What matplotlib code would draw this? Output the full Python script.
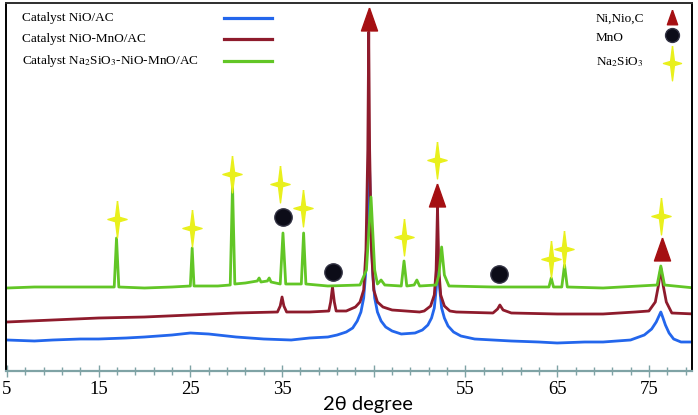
import matplotlib.pyplot as plt

plt.rcParams['mathtext.fontset'] = 'stix'

# 2theta (deg) / intensity (a.u.)
x_nio = [5, 8, 10, 13, 15, 18, 20, 23, 25, 27, 30, 33, 36, 38, 40, 41, 42, 42.7, 43.2, 43.6, 43.9, 44.1, 44.3,
         44.5, 44.7, 44.9, 45.1, 45.4, 45.8, 46.3, 47, 48, 49.5, 50.3, 50.9, 51.3, 51.6, 51.8, 52.0, 52.2,
         52.4, 52.7, 53.1, 53.7, 54.5, 56, 58, 60, 63, 65, 68, 70, 73, 74.5, 75.3, 75.8, 76.1, 76.3, 76.5,
         76.8, 77.2, 77.7, 78.5, 80]
y_nio = [30, 29, 30, 31, 31, 32, 33, 35, 37, 36, 33, 31, 30, 32, 33, 35, 38, 42, 49, 58, 72, 95, 140,
         218, 140, 95, 72, 58, 49, 43, 39, 36, 37, 40, 45, 52, 62, 80, 105, 80,
         62, 52, 44, 38, 34, 31, 30, 29, 28, 27, 28, 28, 30, 35, 41, 48, 54, 58, 53,
         45, 37, 31, 28, 28]

x_mno = [5, 10, 15, 20, 25, 30, 34.5, 34.8, 35.0, 35.2, 35.5, 38, 40.1, 40.3, 40.5, 40.7, 40.9, 42, 43, 43.5,
         43.9, 44.15, 44.35, 44.45, 44.55, 44.75, 45.0, 45.4, 46, 47, 50, 50.5, 51.2, 51.6, 51.8, 51.95, 52.1,
         52.3, 52.7, 53.3, 54, 58, 58.5, 58.75, 59.1, 60, 65, 70, 73.5, 75, 75.7, 76.05, 76.3, 76.55, 76.9,
         77.5, 80]
y_mno = [48, 50, 52, 53, 55, 57, 58, 64, 73, 64, 58, 58, 59, 68, 83, 68, 59, 59, 63, 68,
         80, 120, 220, 338, 220, 120, 80, 68, 63, 60, 58, 59, 64, 75, 100, 163, 100,
         75, 64, 59, 58, 57, 61, 65, 60, 57, 56, 56, 58, 59, 68, 85, 102, 85, 68,
         57, 56]

x_na = [5, 8, 12, 16.7, 16.95, 17.2, 20, 23, 25.0, 25.2, 25.4, 28, 29.35, 29.6, 29.85, 31, 32.3, 32.5, 32.7,
        33.4, 33.6, 33.8, 34.8, 35.1, 35.4, 37.1, 37.35, 37.6, 40, 43.5, 44.2, 44.7, 45.1, 45.4, 45.8, 46.2,
        48.0, 48.3, 48.6, 49.4, 49.7, 50.0, 51.8, 52.1, 52.4, 52.7, 53.2, 58, 62, 64.1, 64.35, 64.6, 65.5,
        65.8, 66.1, 70, 75.9, 76.3, 76.7, 80]
y_na = [82, 83, 83, 83, 132, 83, 82, 83, 84, 122, 84, 84, 85, 185, 86, 87, 89, 92, 88,
        89, 92, 88, 86, 137, 86, 86, 137, 86, 84, 85, 100, 173, 100, 86, 90, 85,
        84, 109, 84, 85, 90, 84, 85, 95, 123, 95, 84, 83, 83, 83, 92, 83, 83,
        105, 83, 82, 85, 104, 85, 82]

star_x = [16.96, 25.2, 29.57, 34.78, 37.28, 48.26, 51.9, 64.35, 65.76, 76.3]
star_y = [151, 142, 196, 186, 162, 133, 210, 111, 121, 154]
circle_x = [35.1, 40.54, 58.7]
circle_y = [153, 98, 96]
tri_x = [44.46, 51.9, 76.4]
tri_y = [351, 175, 121]

names = ['Catalyst NiO/AC', 'Catalyst NiO-MnO/AC', 'Catalyst Na$_2$SiO$_3$-NiO-MnO/AC']
colors = ['#2366ec', '#8e1b2c', '#62c626']
phases = ['Ni,Nio,C', 'MnO', 'Na$_2$SiO$_3$']

ticks = [5, 15, 25, 35, 45, 55, 65, 75]
tick_labels = ['5', '15', '25', '35', '', '55', '65', '75']

W, H = 698, 415
star = [(0, 0.5), (0.055, 0.06), (0.26, 0), (0.055, -0.06), (0, -0.5), (-0.055, -0.06), (-0.26, 0),
        (-0.055, 0.06), (0, 0.5)]
tri = [(0, 0.5), (0.35, -0.5), (-0.35, -0.5), (0, 0.5)]
star_c = '#e9f01c'
tri_c = '#a50f12'
dot_c = '#0c0c18'

fig = plt.figure(figsize=(6.98, 4.15), dpi=100)
ax = fig.add_axes([6 / W, 1 - 371 / H, (692 - 6) / W, 368 / H])

ax.plot(x_nio, y_nio, color=colors[0], lw=2.0)
ax.plot(x_mno, y_mno, color=colors[1], lw=2.0)
ax.plot(x_na, y_na, color=colors[2], lw=2.0)

ax.plot(star_x, star_y, ls='none', marker=star, ms=26.5, color=star_c, mec=star_c)
ax.plot(circle_x, circle_y, ls='none', marker='o', ms=12.5, color=dot_c, mec='#334')
ax.plot(tri_x, tri_y, ls='none', marker=tri, ms=16.5, color=tri_c, mec=tri_c)

ax.set_xlim(4.9, 79.7)
ax.set_ylim(-1, 367)
ax.set_yticks([])
ax.set_xticks(ticks)
ax.set_xticklabels(tick_labels, family='Liberation Serif', fontsize=13.5)
ax.set_xticks(range(5, 80, 2), minor=True)
ax.tick_params(axis='x', which='major', direction='inout', length=9, width=1, color='#7fa3a5', pad=3)
ax.tick_params(axis='x', which='minor', direction='inout', length=6, width=1, color='#7fa3a5')
ax.spines['bottom'].set_color('#7fa3a5')
ax.spines['bottom'].set_linewidth(1.6)
ax.spines['top'].set_color('#2e2e2e')
for s in ['left', 'right', 'top']:
    ax.spines[s].set_linewidth(1.4)

fig.text(368 / W, 1 - 404 / H, '2θ degree', ha='center', va='center', fontsize=14.5, family='Lato')

# legend on the left
for i, name in enumerate(names):
    yy = 1 - [18, 39, 61][i] / H
    fig.text(22 / W, yy, name, ha='left', va='center', fontsize=9.5, family='Liberation Serif')
    ax.plot([224 / W, 272 / W], [yy, yy], color=colors[i], lw=2.3, transform=fig.transFigure, clip_on=False)

# legend for the phases
for i, p in enumerate(phases):
    fig.text(596 / W, 1 - [19, 38, 62][i] / H, p, ha='left', va='center', fontsize=9.5,
             family='Liberation Serif')
ax.plot([672 / W], [1 - 17 / H], marker=tri, ms=10.5, color=tri_c, mec=tri_c,
        transform=fig.transFigure, clip_on=False)
ax.plot([672 / W], [1 - 35 / H], marker='o', ms=10, color=dot_c, mec='#334',
        transform=fig.transFigure, clip_on=False)
ax.plot([672 / W], [1 - 63 / H], marker=star, ms=25, color=star_c, mec=star_c,
        transform=fig.transFigure, clip_on=False)

fig.savefig('out.png', dpi=100)
